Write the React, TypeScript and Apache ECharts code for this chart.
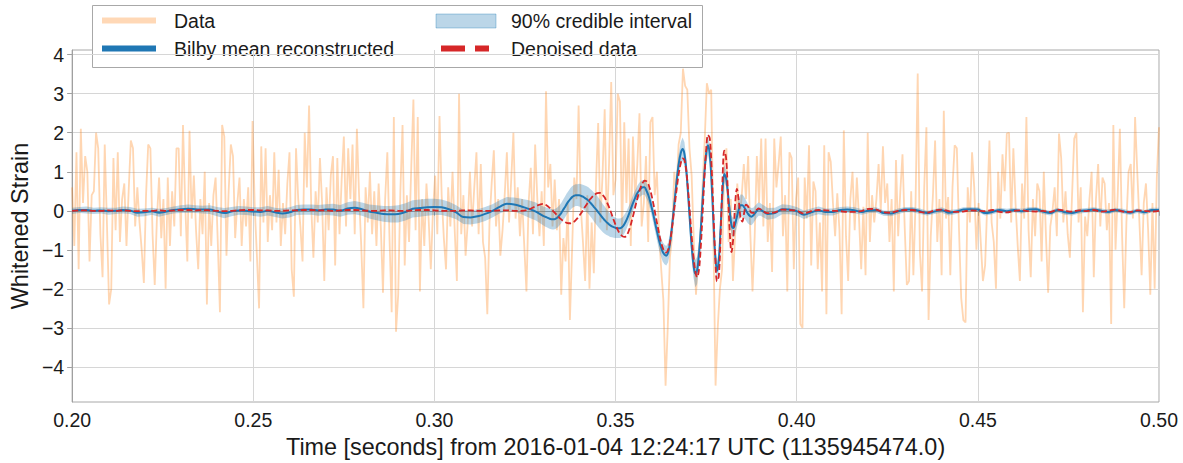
import React, { useEffect, useRef } from "react";
import * as echarts from "echarts";

// ---------- Data ----------
const FONT = "'Liberation Sans', Arial, Helvetica, sans-serif";

// Whitened strain samples (every 0.6 ms from 0.200 s to 0.500 s)
const noiseStart = 0.2;
const noiseStep = 0.0006;
const noiseValues = [
  0.6, -0.9, 1.5, -1.5, 2.1, 0.2, 1.4, 1.0, -1.3, 0.4,
  0.5, 2.0, 1.6, -0.6, -1.7, 1.7, -0.3, -2.4, -2.0, 1.35,
  -0.5, 1.5, -0.8, 0.3, 0.7, -0.9, 0.5, 1.8, 1.6, -0.4,
  0.6, -0.3, -1.0, -1.85, 0.4, 1.7, 1.6, -0.6, -1.9, -0.2,
  0.85, -0.7, 0.3, -2.0, 0.85, -0.9, 0.5, -0.4, 1.6, 1.6,
  -0.65, 2.2, 0.2, -1.3, 2.05, -0.2, 0.9, -0.5, -1.5, 0.3,
  -0.6, 1.0, -2.4, 0.2, -0.9, 0.4, 0.85, -0.8, -2.6, 2.2,
  1.9, -1.15, 0.5, 1.7, 1.4, -0.7, 0.2, 0.85, -0.9, 0.3,
  -0.4, 0.6, -1.3, 2.3, 0.1, -1.15, -2.5, 1.65, -0.3, 1.6,
  -0.8, 0.4, -0.5, 1.5, -0.3, 1.05, -0.9, 0.2, -0.6, 0.7,
  1.5, -1.5, -2.2, 1.6, 0.3, -0.4, -1.3, 2.0, 0.6, 2.7,
  0.1, -1.2, 0.5, -0.3, 1.35, 0.2, -1.8, 0.6, -0.5, 0.9,
  1.4, -1.4, 1.35, -0.6, 0.8, 1.9, -0.4, 1.6, 0.3, 1.7,
  -0.6, 2.1, 0.4, -0.9, -2.5, 0.6, -0.3, 1.0, -0.6, 0.5,
  -0.9, 0.7, -0.4, -2.1, 0.3, 1.5, -0.7, -2.6, 2.4, -3.1,
  -2.15, 0.5, 2.2, -1.4, 0.4, -0.8, 1.1, 2.85, -0.5, 2.4,
  -2.07, 0.3, -0.9, 0.7, -0.2, -1.5, 0.0, 0.9, -0.6, 2.43,
  0.4, -0.7, -1.5, 0.6, -0.4, 1.0, -0.5, -1.8, 3.0, -0.6,
  0.4, -1.15, -0.3, 1.0, -0.4, 0.6, 1.5, -0.6, 1.2, -0.8,
  -1.2, -2.65, -0.3, 0.7, 1.55, -0.4, 0.3, -1.15, -0.5, 0.4,
  1.5, -0.3, 0.8, 2.0, -0.2, 0.6, -0.65, 0.3, -0.9, -2.07,
  0.2, 1.1, -0.6, 1.7, 0.3, -0.65, 0.5, -0.9, 3.06, 0.6,
  1.2, -0.4, 0.8, -0.5, 0.3, -2.15, -0.7, -1.3, 0.2, -2.8,
  -1.0, 0.85, 0.3, 2.7, 0.1, -0.8, -1.8, 0.4, -2.0, -0.3,
  -1.6, 0.7, 2.25, -0.3, 0.9, 2.6, -0.5, 1.2, 3.3, 0.4,
  0.8, 3.0, 2.8, -0.6, 2.27, 0.2, 1.85, -0.9, 1.9, 0.3,
  1.2, 2.5, -0.4, 0.2, 1.4, -0.8, 2.27, 2.4, 0.4, 1.0,
  -0.6, -1.5, -2.3, -4.48, -3.0, -1.2, -0.65, 1.0, 0.5, 1.7,
  2.0, 3.64, 3.2, 3.1, 1.6, 0.9, -0.8, -2.15, -1.2, -0.65,
  0.6, 1.8, 3.27, 3.0, 3.1, -0.65, -4.48, -3.0, -2.0, -1.5,
  1.2, 1.6, -0.8, 0.3, -1.8, -0.6, 0.7, -0.2, 0.35, 1.2,
  0.3, 1.4, -0.6, -2.07, -0.65, 1.4, 0.2, 1.85, -0.4, 1.85,
  -0.8, 0.2, -1.57, 1.85, 0.6, 1.2, 1.9, -0.65, 0.4, -2.07,
  1.5, 1.35, -1.5, 0.3, 0.85, -2.9, -3.0, 0.85, -0.2, 1.68,
  -1.4, 0.75, 0.5, -1.5, -0.3, -2.07, 1.68, -2.65, 1.5, 1.25,
  0.2, -0.65, 0.45, -0.5, -2.65, 2.06, -0.65, -1.8, 0.3, 1.0,
  -0.5, 0.85, -0.2, -1.5, 0.1, -1.65, 2.0, -0.8, 0.4, -0.3,
  0.3, 1.2, 0.0, 1.65, 0.2, 0.7, -0.8, 0.3, -2.07, 1.3,
  -0.65, 0.5, 1.45, -0.4, -1.9, -1.8, 0.5, -1.65, 0.2, 3.52,
  -1.07, -2.07, 0.6, 2.14, -2.8, -0.65, 0.4, 1.8, -0.8, 0.3,
  -1.65, 2.56, -0.2, 0.35, -1.65, 0.6, 1.68, 1.6, -0.5, -2.23,
  -2.8, -2.86, 0.6, -0.3, 1.5, 0.6, -1.0, 0.2, -0.8, -1.8,
  -1.4, 0.2, 1.8, -0.3, -0.8, -2.0, 1.0, -0.2, 1.45, 0.5,
  1.98, 2.0, -0.3, 1.6, 0.2, -0.9, -1.8, 0.7, -0.2, 2.4,
  -0.5, -1.7, 0.3, -0.65, 0.7, 0.5, -1.3, 1.0, -0.65, -2.1,
  -0.4, 0.0, 0.6, -0.65, 1.98, 1.35, -0.3, 0.5, -0.6, -1.2,
  0.4, 1.85, 2.0, -0.3, 0.6, -2.6, -0.15, -0.65, 0.3, 1.0,
  -1.7, 0.3, 1.2, -0.4, 0.85, 0.7, -0.5, 0.2, -2.9, 2.2,
  -1.0, 0.4, 2.1, -0.6, -2.5, -0.3, 1.0, 1.2, -0.2, 2.4,
  1.0, -0.3, -1.65, 0.2, 0.7, -0.5, -2.15, 0.2, -2.0, 0.85, 2.14,
];

// Reconstruction sample times: 2 ms steps, 0.5 ms steps around the merger, 2 ms steps after
const signalTimes: number[] = [];
for (let i = 0; i < 65; i++) signalTimes.push(+(0.2 + 0.002 * i).toFixed(4));
for (let j = 0; j < 120; j++) signalTimes.push(+(0.33 + 0.0005 * j).toFixed(4));
for (let k = 0; k < 56; k++) signalTimes.push(+(0.39 + 0.002 * k).toFixed(4));

// Bilby mean reconstructed waveform
const meanEarly = [
  0.0, 0.02, 0.02, 0.0, 0.01, -0.01, 0.0, 0.02, 0.01, -0.05,
  -0.04, -0.01, -0.05, -0.02, 0.02, 0.04, 0.05, 0.04, 0.03, 0.03,
  -0.02, -0.06, -0.02, 0.01, 0.0, -0.02, -0.03, 0.0, -0.04, -0.07,
  -0.04, 0.02, 0.03, 0.03, 0.01, 0.03, 0.03, 0.0, 0.06, 0.08,
  0.04, -0.02, -0.05, -0.08, -0.09, -0.08, -0.03, 0.05, 0.07, 0.09,
  0.1, 0.09, 0.04, -0.04, -0.16, -0.17, -0.14, -0.08, 0.0, 0.1,
  0.18, 0.16, 0.11, 0.05, -0.02,
];
const meanMerger = [
  -0.13, -0.15, -0.17, -0.19, -0.21, -0.22, -0.22, -0.2, -0.17, -0.12,
  -0.06, 0.02, 0.09, 0.17, 0.24, 0.3, 0.35, 0.38, 0.4, 0.4,
  0.4, 0.38, 0.36, 0.33, 0.3, 0.26, 0.21, 0.16, 0.1, 0.05,
  -0.01, -0.07, -0.13, -0.19, -0.24, -0.29, -0.33, -0.37, -0.4, -0.42,
  -0.44, -0.45, -0.45, -0.44, -0.4, -0.33, -0.24, -0.13, -0.01, 0.12,
  0.24, 0.35, 0.45, 0.52, 0.57, 0.6, 0.6, 0.52, 0.41, 0.26,
  0.07, -0.13, -0.35, -0.56, -0.76, -0.92, -1.05, -1.12, -1.15, -1.07,
  -0.84, -0.47, -0.03, 0.44, 0.88, 1.24, 1.48, 1.58, 1.46, 1.07,
  0.45, -0.25, -0.9, -1.38, -1.61, -1.53, -1.14, -0.52, 0.24, 0.95,
  1.46, 1.68, 1.46, 0.72, -0.27, -1.14, -1.54, -1.27, -0.43, 0.47,
  0.94, 0.84, 0.46, -0.01, -0.37, -0.44, -0.34, -0.15, 0.03, 0.14,
  0.14, 0.09, 0.01, -0.07, -0.13, -0.15, -0.12, -0.06, 0.0, 0.04,
];
const meanLate = [
  0.03, -0.08, -0.06, 0.04, 0.03, -0.01, -0.1, -0.04, 0.01, -0.03,
  -0.03, 0.02, 0.03, 0.01, -0.03, 0.01, 0.02, -0.06, -0.07, -0.01,
  0.03, 0.03, -0.01, -0.06, -0.02, 0.02, -0.05, -0.02, 0.03, 0.04,
  0.03, -0.06, -0.03, 0.02, -0.01, 0.02, -0.01, 0.03, 0.04, -0.02,
  -0.06, 0.02, -0.04, -0.06, -0.01, 0.01, 0.03, 0.0, -0.03, 0.02,
  -0.01, -0.05, 0.0, -0.04, 0.02, 0.02,
];

// Half width of the 90% credible interval around the mean
const halfEarly = [
  0.08, 0.08, 0.09, 0.08, 0.08, 0.09, 0.08, 0.09, 0.09, 0.1,
  0.1, 0.09, 0.1, 0.09, 0.09, 0.1, 0.11, 0.1, 0.1, 0.11,
  0.12, 0.13, 0.12, 0.11, 0.11, 0.11, 0.12, 0.12, 0.12, 0.13,
  0.13, 0.13, 0.13, 0.13, 0.14, 0.14, 0.15, 0.15, 0.16, 0.17,
  0.17, 0.18, 0.19, 0.2, 0.21, 0.22, 0.22, 0.22, 0.22, 0.22,
  0.21, 0.2, 0.19, 0.18, 0.18, 0.18, 0.18, 0.18, 0.17, 0.17,
  0.17, 0.18, 0.2, 0.22, 0.23,
];
const halfMerger = [
  0.24, 0.25, 0.25, 0.26, 0.26, 0.26, 0.26, 0.26, 0.26, 0.26,
  0.26, 0.26, 0.27, 0.27, 0.27, 0.28, 0.28, 0.28, 0.28, 0.28,
  0.29, 0.3, 0.31, 0.32, 0.33, 0.34, 0.35, 0.36, 0.37, 0.38,
  0.38, 0.38, 0.37, 0.36, 0.35, 0.33, 0.31, 0.3, 0.28, 0.27,
  0.26, 0.25, 0.25, 0.25, 0.24, 0.24, 0.23, 0.22, 0.21, 0.2,
  0.2, 0.19, 0.19, 0.19, 0.19, 0.19, 0.19, 0.2, 0.2, 0.21,
  0.21, 0.22, 0.22, 0.23, 0.24, 0.24, 0.25, 0.25, 0.25, 0.25,
  0.25, 0.25, 0.24, 0.24, 0.25, 0.26, 0.28, 0.3, 0.3, 0.3,
  0.3, 0.31, 0.32, 0.33, 0.35, 0.35, 0.33, 0.3, 0.28, 0.26,
  0.25, 0.25, 0.25, 0.24, 0.24, 0.24, 0.25, 0.25, 0.24, 0.23,
  0.22, 0.22, 0.22, 0.23, 0.24, 0.25, 0.26, 0.27, 0.28, 0.28,
  0.28, 0.27, 0.26, 0.25, 0.23, 0.22, 0.2, 0.19, 0.18, 0.17,
];
const halfLate = [
  0.16, 0.15, 0.14, 0.13, 0.12, 0.11, 0.11, 0.1, 0.1, 0.09,
  0.09, 0.08, 0.08, 0.08, 0.07, 0.07, 0.07, 0.07, 0.07, 0.07,
  0.07, 0.07, 0.07, 0.06, 0.06, 0.07, 0.07, 0.06, 0.06, 0.06,
  0.06, 0.06, 0.06, 0.06, 0.06, 0.06, 0.06, 0.06, 0.06, 0.06,
  0.06, 0.06, 0.06, 0.06, 0.06, 0.06, 0.06, 0.06, 0.06, 0.06,
  0.06, 0.06, 0.06, 0.06, 0.06, 0.06,
];

// Denoised data
const denoisedEarly = [
  0.0, 0.01, 0.01, 0.0, 0.0, 0.01, 0.0, 0.01, 0.0, -0.01,
  0.0, 0.0, 0.01, 0.0, 0.01, 0.02, 0.02, 0.01, 0.02, 0.01,
  0.0, -0.01, 0.0, 0.01, 0.02, 0.02, 0.01, 0.01, 0.0, 0.0,
  0.01, 0.01, 0.02, 0.02, 0.01, 0.01, 0.0, 0.01, 0.02, 0.02,
  0.01, 0.0, 0.0, 0.01, 0.01, 0.0, 0.0, 0.01, 0.02, 0.02,
  0.01, 0.0, 0.0, 0.0, 0.01, 0.01, 0.0, 0.0, 0.0, 0.01,
  0.01, 0.0, 0.0, 0.03, 0.12,
];
const denoisedMerger = [
  0.175, 0.16, 0.135, 0.1, 0.06, 0.02, -0.03, -0.08, -0.13, -0.18,
  -0.22, -0.26, -0.29, -0.31, -0.32, -0.32, -0.3, -0.28, -0.24, -0.19,
  -0.13, -0.06, 0.01, 0.09, 0.16, 0.23, 0.3, 0.35, 0.4, 0.43,
  0.45, 0.46, 0.45, 0.4, 0.34, 0.24, 0.14, 0.02, -0.11, -0.24,
  -0.36, -0.47, -0.56, -0.62, -0.66, -0.67, -0.64, -0.55, -0.42, -0.25,
  -0.07, 0.13, 0.31, 0.48, 0.62, 0.72, 0.77, 0.76, 0.69, 0.55,
  0.37, 0.15, -0.1, -0.34, -0.58, -0.79, -0.94, -1.04, -1.07, -1.0,
  -0.81, -0.5, -0.13, 0.27, 0.66, 0.99, 1.22, 1.34, 1.3, 1.04,
  0.56, -0.04, -0.65, -1.18, -1.55, -1.7, -1.53, -0.96, -0.11, 0.8,
  1.54, 1.94, 1.86, 1.13, -0.02, -1.14, -1.81, -1.67, -0.61, 0.74,
  1.54, 1.36, 0.49, -0.52, -1.06, -0.69, 0.18, 0.56, 0.26, -0.18,
  -0.28, -0.05, 0.155, 0.12, 0.03, -0.05, -0.055, -0.02, 0.03, 0.06,
];
const denoisedLate = [
  0.04, -0.06, -0.04, 0.03, 0.02, 0.0, -0.07, -0.01, 0.02, 0.01,
  0.0, -0.01, -0.03, -0.03, 0.0, 0.05, 0.03, -0.04, -0.05, 0.0,
  0.02, 0.02, -0.03, -0.05, 0.01, 0.03, -0.01, -0.03, -0.02, 0.01,
  0.0, -0.01, 0.02, -0.03, -0.04, 0.0, 0.01, -0.01, -0.02, 0.0,
  -0.03, 0.03, 0.0, -0.02, 0.01, -0.01, 0.02, -0.02, 0.0, 0.03,
  -0.02, -0.03, 0.01, 0.0, -0.02, 0.0,
];

const yTickValues = [-4, -3, -2, -1, 0, 1, 2, 3, 4];

const legendLabels = ["Data", "Bilby mean reconstructed", "90% credible interval", "Denoised data"];
const xAxisTitle = "Time [seconds] from 2016-01-04 12:24:17 UTC (1135945474.0)";
const yAxisTitle = "Whitened Strain";

// ---------- Component ----------
export default function App() {
  const ref = useRef<HTMLDivElement>(null);

  useEffect(() => {
    if (!ref.current) return;
    const chart = echarts.init(ref.current, undefined, { renderer: "svg" });

    const meanValues = [...meanEarly, ...meanMerger, ...meanLate];
    const halfWidths = [...halfEarly, ...halfMerger, ...halfLate];
    const denoisedValues = [...denoisedEarly, ...denoisedMerger, ...denoisedLate];

    const noisePairs = noiseValues.map((v, i) => [+(noiseStart + noiseStep * i).toFixed(4), v]);
    const meanPairs = signalTimes.map((t, i) => [t, meanValues[i]]);
    const denoisedPairs = signalTimes.map((t, i) => [t, denoisedValues[i]]);

    const textColor = "#1a1a1a";
    const fmtY = (v: number) => (v < 0 ? "\u2212" + Math.abs(v) : String(v));

    const legendY1 = 21;
    const legendY2 = 49;

    chart.setOption({
      animation: false,
      textStyle: { fontFamily: FONT },
      grid: {
        left: 70,
        top: 50,
        width: 1089,
        height: 361,
        show: true,
        borderColor: "#a8a8a8",
        borderWidth: 1,
        containLabel: false,
      },
      xAxis: {
        type: "value",
        min: 0.2,
        max: 0.5,
        interval: 0.05,
        name: xAxisTitle,
        nameLocation: "middle",
        nameGap: 33,
        nameTextStyle: { fontSize: 23.4, color: textColor, fontFamily: FONT },
        axisLine: { show: true, lineStyle: { color: "#a0a0a0", width: 1 } },
        axisTick: { show: true, length: 5, lineStyle: { color: "#a0a0a0" } },
        axisLabel: {
          fontSize: 19.5,
          color: textColor,
          margin: 8,
          fontFamily: FONT,
          formatter: (v: number) => v.toFixed(2),
        },
        splitLine: { show: true, lineStyle: { color: "#d6d6d6", width: 1 } },
      },
      yAxis: {
        type: "value",
        min: -4.9,
        max: 4.12,
        name: yAxisTitle,
        nameLocation: "middle",
        nameGap: 35,
        nameTextStyle: { fontSize: 23.4, color: textColor, fontFamily: FONT },
        axisLine: { show: true, lineStyle: { color: "#a0a0a0", width: 1 } },
        axisTick: { show: true, length: 5, customValues: yTickValues, lineStyle: { color: "#a0a0a0" } },
        axisLabel: {
          fontSize: 19.5,
          color: textColor,
          margin: 8,
          fontFamily: FONT,
          customValues: yTickValues,
          formatter: fmtY,
        },
        splitLine: { show: true, lineStyle: { color: "#d6d6d6", width: 1 } },
      },
      series: [
        {
          name: legendLabels[0],
          type: "line",
          data: noisePairs,
          symbol: "none",
          silent: true,
          lineStyle: { color: "rgba(255,127,14,0.32)", width: 1.8 },
          z: 1,
        },
        {
          name: legendLabels[2],
          type: "custom",
          data: [[0.2, 0]],
          silent: true,
          z: 2,
          renderItem: (params: any, api: any) => {
            if (params.dataIndex !== 0) return null;
            const pts: number[][] = [];
            for (let i = 0; i < signalTimes.length; i++) {
              pts.push(api.coord([signalTimes[i], meanValues[i] + halfWidths[i]]));
            }
            for (let i = signalTimes.length - 1; i >= 0; i--) {
              pts.push(api.coord([signalTimes[i], meanValues[i] - halfWidths[i]]));
            }
            return {
              type: "polygon",
              shape: { points: pts },
              style: { fill: "rgba(31,119,180,0.3)", stroke: "none" },
            };
          },
        },
        {
          name: legendLabels[1],
          type: "line",
          data: meanPairs,
          symbol: "none",
          smooth: 0.35,
          silent: true,
          lineStyle: { color: "#1f77b4", width: 2 },
          z: 3,
        },
        {
          name: legendLabels[3],
          type: "line",
          data: denoisedPairs,
          symbol: "none",
          smooth: 0.35,
          silent: true,
          lineStyle: { color: "#d62728", width: 1.8, type: [6, 2.8] },
          z: 4,
        },
      ],
      graphic: [
        {
          type: "group",
          z: 100,
          children: [
            {
              type: "rect",
              shape: { x: 92.5, y: 5.5, width: 610, height: 62 },
              style: { fill: "#ffffff", stroke: "#a8a8a8", lineWidth: 1 },
            },
            {
              type: "line",
              shape: { x1: 102, y1: legendY1 - 0.5, x2: 156, y2: legendY1 - 0.5 },
              style: { stroke: "rgba(255,127,14,0.3)", lineWidth: 6 },
            },
            {
              type: "text",
              x: 174,
              y: legendY1,
              style: { text: legendLabels[0], fontSize: 19.5, fontFamily: FONT, fill: textColor, verticalAlign: "middle" },
            },
            {
              type: "line",
              shape: { x1: 102, y1: legendY2 - 0.5, x2: 156, y2: legendY2 - 0.5 },
              style: { stroke: "#1f77b4", lineWidth: 6 },
            },
            {
              type: "text",
              x: 174,
              y: legendY2,
              style: { text: legendLabels[1], fontSize: 19.5, fontFamily: FONT, fill: textColor, verticalAlign: "middle" },
            },
            {
              type: "rect",
              shape: { x: 436, y: 14, width: 60, height: 14 },
              style: { fill: "rgba(31,119,180,0.3)", stroke: "rgba(31,119,180,0.35)", lineWidth: 1 },
            },
            {
              type: "text",
              x: 511,
              y: legendY1,
              style: { text: legendLabels[2], fontSize: 19.5, fontFamily: FONT, fill: textColor, verticalAlign: "middle" },
            },
            {
              type: "line",
              shape: { x1: 441, y1: legendY2 - 0.5, x2: 489, y2: legendY2 - 0.5 },
              style: { stroke: "#d62728", lineWidth: 6, lineDash: [24, 10] },
            },
            {
              type: "text",
              x: 511,
              y: legendY2,
              style: { text: legendLabels[3], fontSize: 19.5, fontFamily: FONT, fill: textColor, verticalAlign: "middle" },
            },
          ],
        },
      ],
    });

    return () => {
      chart.dispose();
    };
  }, []);

  return (
    <div
      ref={ref}
      style={{ position: "fixed", left: 0, top: 0, width: 1183, height: 463, background: "#ffffff" }}
    />
  );
}
